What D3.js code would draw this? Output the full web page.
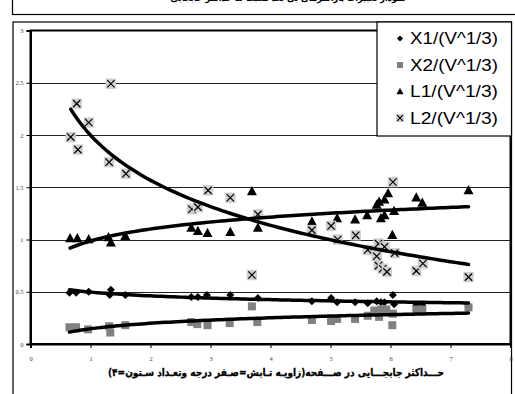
<!DOCTYPE html>
<html><head><meta charset="utf-8">
<script src="https://cdn.jsdelivr.net/npm/d3@7/dist/d3.min.js"></script>
<style>html,body{margin:0;padding:0;background:#fff;}svg{display:block;}</style>
</head><body>
<script>
// ---- data ----
const x1X = [0.65,0.76,0.97,1.32,1.34,1.58,2.68,2.79,2.94,3.33,3.79,4.69,5.01,5.11,5.41,5.62,5.77,5.84,5.90,6.04,6.06,6.43,6.53,7.30];
const x1Y = [0.49,0.49,0.50,0.47,0.52,0.47,0.45,0.45,0.47,0.47,0.44,0.41,0.44,0.40,0.40,0.39,0.41,0.40,0.40,0.47,0.38,0.37,0.37,0.36];
const x2X = [0.65,0.76,0.96,1.31,1.33,1.58,2.68,2.78,2.95,3.32,3.69,3.78,4.69,5.01,5.11,5.41,5.62,5.73,5.81,5.84,5.93,6.03,6.04,6.43,6.53,7.30];
const x2Y = [0.16,0.16,0.14,0.17,0.11,0.18,0.21,0.19,0.18,0.20,0.36,0.21,0.23,0.22,0.24,0.24,0.27,0.32,0.26,0.33,0.33,0.18,0.29,0.33,0.33,0.35];
const l1X = [0.66,0.78,0.97,1.30,1.34,1.58,2.68,2.79,2.95,3.33,3.69,3.79,4.69,5.11,5.41,5.61,5.77,5.81,5.84,5.90,5.90,5.96,6.03,6.06,6.43,6.53,7.30];
const l1Y = [1.01,1.01,1.00,1.02,0.97,1.03,1.11,1.08,1.06,1.07,1.46,1.11,1.17,1.20,1.19,1.23,1.33,1.36,1.20,1.23,1.38,1.44,1.04,1.27,1.40,1.35,1.47];
const l2X = [0.67,0.77,0.79,0.97,1.31,1.34,1.59,2.69,2.79,2.96,3.33,3.69,3.79,4.69,5.01,5.12,5.42,5.62,5.77,5.80,5.80,5.87,5.90,5.94,6.04,6.07,6.43,6.54,7.30];
const l2Y = [1.98,2.30,1.86,2.12,1.74,2.49,1.63,1.29,1.31,1.47,1.40,0.66,1.24,1.09,1.13,1.00,1.04,0.90,0.84,0.96,0.75,0.72,0.93,0.69,1.55,0.87,0.70,0.77,0.64];
const seriesNames = ["X1/(V^1/3)","X2/(V^1/3)","L1/(V^1/3)","L2/(V^1/3)"];
const yTicks = [0,0.5,1,1.5,2,2.5,3];
const xTicks = [0,1,2,3,4,5,6,7,8];
const xTitle = "حـــداکثر جابجـــایی در صـــفحه(زاویـه تـابش=صـفر درجه وتعـداد سـتون=۴)";
const topTitle = "نمودار تغییرات پارامترهای بی بعد نسبت به حداکثر جابجایی";

const W = 515, H = 394;
const svg = d3.select("body").append("svg").attr("width", W).attr("height", H);

// outer boxes
svg.append("rect").attr("x",12.5).attr("y",-5).attr("width",520).attr("height",19.5)
  .attr("fill","#fff").attr("stroke","#000").attr("stroke-width",1.2);
svg.append("text").attr("x",288).attr("y",1).attr("text-anchor","middle")
  .attr("font-family","DejaVu Sans").attr("font-weight","bold").attr("font-size",10)
  .attr("textLength",235).attr("lengthAdjust","spacingAndGlyphs").attr("direction","rtl")
  .text(topTitle);
svg.append("rect").attr("x",13).attr("y",22).attr("width",498.5).attr("height",400)
  .attr("fill","#fff").attr("stroke","#000").attr("stroke-width",1.2);

const x = d3.scaleLinear().domain([0,8]).range([30.5,510.5]);
const y = d3.scaleLinear().domain([0,3]).range([344,30.5]);

// gridlines
svg.append("g").selectAll("line").data(yTicks.filter(d=>d>0&&d<3)).join("line")
  .attr("x1",x(0)).attr("x2",x(8)).attr("y1",d=>Math.round(y(d))+0.5).attr("y2",d=>Math.round(y(d))+0.5)
  .attr("stroke","#222").attr("stroke-width",1);

// plot frame
svg.append("rect").attr("x",x(0)).attr("y",y(3)).attr("width",x(8)-x(0)).attr("height",y(0)-y(3))
  .attr("fill","none").attr("stroke","#000").attr("stroke-width",2);

// axes
const ya = svg.append("g").attr("transform",`translate(${x(0)},0)`)
  .call(d3.axisLeft(y).tickValues(yTicks).tickSize(4).tickPadding(3).tickFormat(d3.format("")));
const xa = svg.append("g").attr("transform",`translate(0,${y(0)})`)
  .call(d3.axisBottom(x).tickValues(xTicks).tickSize(4).tickPadding(8).tickFormat(d3.format("d")));
[ya,xa].forEach(a=>{
  a.select(".domain").attr("stroke","#000").attr("stroke-width",2);
  a.selectAll(".tick line").attr("stroke","#000").attr("stroke-width",1);
  a.selectAll("text").attr("font-family","Liberation Serif").attr("font-size",6.5).attr("fill","#444");
});

// trendlines: logarithmic least squares fit
function logFit(xs, ys){
  const n=xs.length; const lx=xs.map(Math.log);
  const mx=d3.mean(lx), my=d3.mean(ys);
  let sxy=0,sxx=0; for(let i=0;i<n;i++){sxy+=(lx[i]-mx)*(ys[i]-my);sxx+=(lx[i]-mx)**2;}
  const b=sxy/sxx, a=my-b*mx; return v=>a+b*Math.log(v);
}
const allSeries = [[x1X,x1Y],[x2X,x2Y],[l1X,l1Y],[l2X,l2Y]];

// markers
const g = svg.append("g");
function diamond(sel,s){ sel.append("path").attr("d",`M0,${-s}L${s},0L0,${s}L${-s},0Z`).attr("fill","#000"); }
function square(sel,s){ sel.append("rect").attr("x",-s).attr("y",-s).attr("width",2*s).attr("height",2*s).attr("fill","#808080"); }
function triangle(sel,s){ sel.append("path").attr("d",`M0,${-s*1.1}L${s},${s*0.75}L${-s},${s*0.75}Z`).attr("fill","#000"); }
function xbox(sel,s){
  sel.append("rect").attr("x",-s).attr("y",-s).attr("width",2*s).attr("height",2*s).attr("fill","#cfcfcf");
  const k=s*0.7;
  sel.append("path").attr("d",`M${-k},${-k}L${k},${k}M${k},${-k}L${-k},${k}`).attr("stroke","#000").attr("stroke-width",1.2);
}
const drawers=[diamond,square,triangle,xbox];
const sizes=[4,4,5,5.2];
allSeries.forEach(([xs,ys],si)=>{
  xs.forEach((v,i)=>{
    const m=g.append("g").attr("transform",`translate(${x(v)},${y(ys[i])})`);
    drawers[si](m,sizes[si]);
  });
});
// trendlines on top
const line=d3.line().x(d=>x(d[0])).y(d=>y(d[1])).curve(d3.curveLinear);
allSeries.forEach(([xs,ys])=>{
  const f=logFit(xs,ys); const [mn,mxv]=d3.extent(xs);
  const pts=d3.range(0,101).map(i=>{const v=mn+(mxv-mn)*i/100; return [v,f(v)];});
  svg.append("path").attr("d",line(pts)).attr("fill","none").attr("stroke","#000").attr("stroke-width",3.5).attr("stroke-linecap","round");
});

// x title
svg.append("text").attr("x",276).attr("y",376).attr("text-anchor","middle")
  .attr("font-family","DejaVu Sans").attr("font-weight","bold").attr("font-size",10.5)
  .attr("textLength",336).attr("lengthAdjust","spacingAndGlyphs").attr("direction","rtl")
  .attr("stroke","#000").attr("stroke-width",0.3)
  .text(xTitle);

// legend
const lg = svg.append("g");
lg.append("rect").attr("x",377).attr("y",22).attr("width",134.5).attr("height",114)
  .attr("fill","#fff").attr("stroke","#000").attr("stroke-width",1.2);
const lsizes=[3,3,3.5,4];
seriesNames.forEach((nm,i)=>{
  const cy = 38.5 + i*26.5;
  const m=lg.append("g").attr("transform",`translate(400,${cy})`);
  drawers[i](m,lsizes[i]);
  lg.append("text").attr("x",410).attr("y",cy+5.5).attr("font-family","Liberation Sans").attr("font-size",16.5)
    .attr("textLength",88).attr("lengthAdjust","spacingAndGlyphs").attr("fill","#000").text(nm);
});
</script>
</body></html>
